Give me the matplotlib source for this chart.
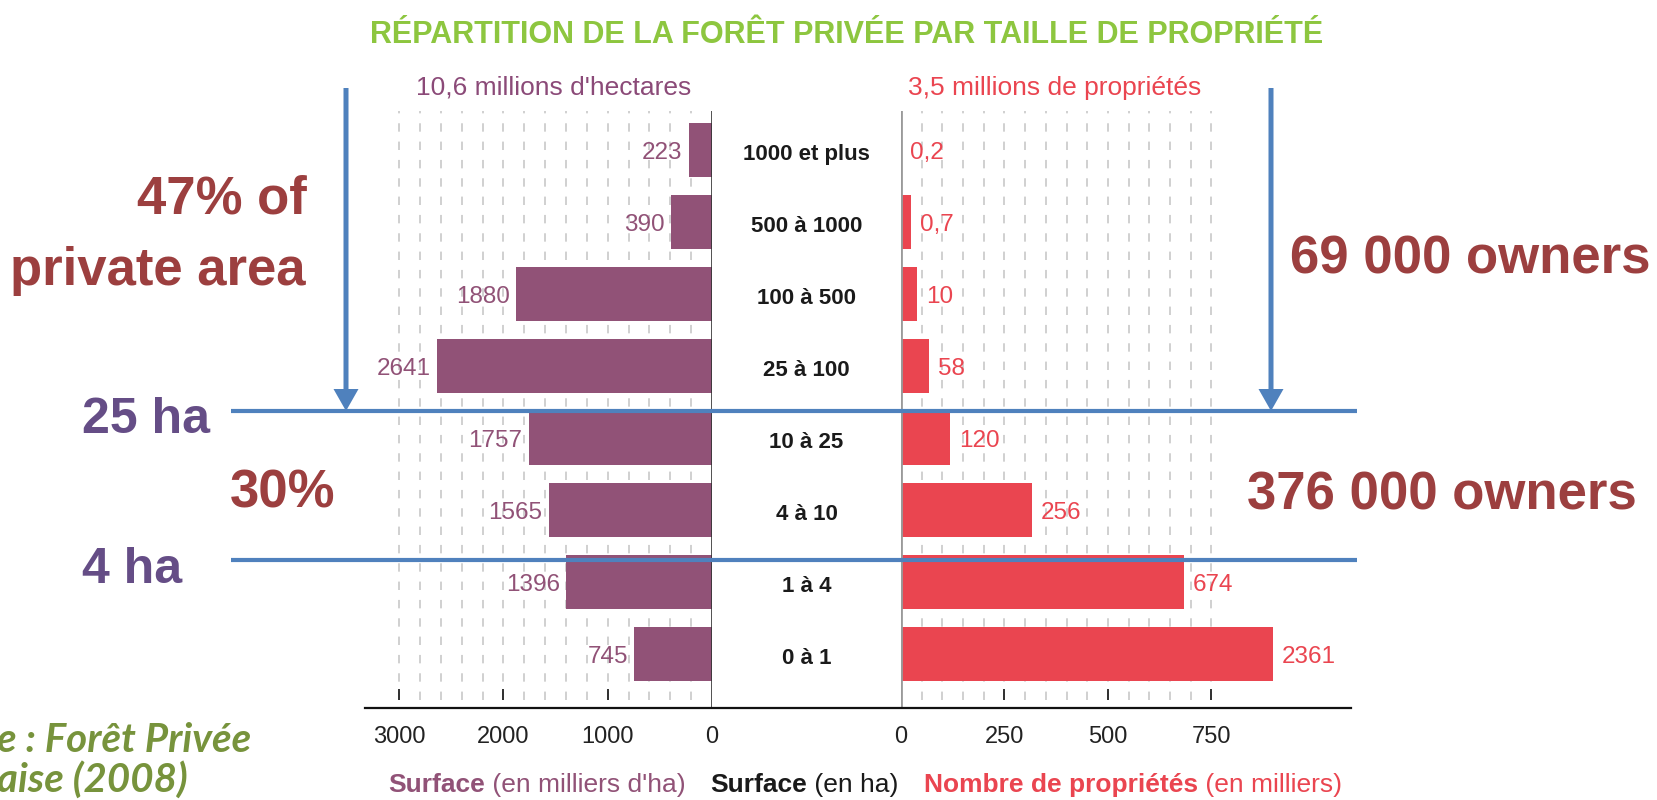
import numpy as np
import matplotlib

matplotlib.use("Agg")
import matplotlib.pyplot as plt
from matplotlib.offsetbox import TextArea, HPacker, AnnotationBbox

# data
categories = ["1000 et plus", "500 à 1000", "100 à 500", "25 à 100",
              "10 à 25", "4 à 10", "1 à 4", "0 à 1"]
surface = [223, 390, 1880, 2641, 1757, 1565, 1396, 745]          # milliers d'ha
proprietes_txt = ["0,2", "0,7", "10", "58", "120", "256", "674", "2361"]  # milliers
# bar lengths as drawn in the source (its right-hand scale is not proportional)
proprietes_barre = [0.2, 24, 39, 68, 118, 316, 684, 899]

left_ticks = [0, 1000, 2000, 3000]
right_ticks = [0, 250, 500, 750]

NARROW = ["Liberation Sans Narrow", "Liberation Sans", "DejaVu Sans"]
SANS = ["Liberation Sans", "DejaVu Sans"]
PURPLE = "#915277"
RED = "#EA4550"
DARKRED = "#9C3F3F"
VIOLET = "#654D86"
BLUE = "#4F81BD"
GREEN = "#8DC63F"

W, H = 1657, 800
fig = plt.figure(figsize=(W / 100, H / 100), dpi=100)
fig.patch.set_facecolor("white")

top_px, bot_px = 111, 708
ybot = (H - bot_px) / H
yh = (bot_px - top_px) / H


def fx(px):
    return px / W


ax_l = fig.add_axes([fx(365), ybot, fx(712 - 365), yh])
ax_m = fig.add_axes([fx(712), ybot, fx(901 - 712), yh])
ax_r = fig.add_axes([fx(901), ybot, fx(1351 - 901), yh])

rows = np.arange(len(categories))
ylim = (7.75, -0.54)

for ax in (ax_l, ax_m, ax_r):
    ax.set_ylim(*ylim)
    ax.set_yticks([])
    for s in ax.spines.values():
        s.set_visible(False)
    ax.patch.set_alpha(0)

ax_m.set_xticks([])

# left: surface
ax_l.set_xlim(3327, 0)
ax_l.vlines(np.arange(200, 3001, 200), 0.013, 1, transform=ax_l.get_xaxis_transform(),
            colors="#C4C4C4", linewidth=1.1, linestyles=(0, (5.5, 6.5)), zorder=1)
ax_l.vlines([1000, 2000, 3000], 0.013, 0.032, transform=ax_l.get_xaxis_transform(),
            colors="#222222", linewidth=1.3, zorder=2)
ax_l.axvline(0, color="#333333", linewidth=1.2, zorder=3)
ax_l.barh(rows, surface, height=0.75, color=PURPLE, zorder=2)
for i, v in enumerate(surface):
    ax_l.annotate(str(v), xy=(v, i), xytext=(-4.5, -2.5), textcoords="offset points",
                  ha="right", va="center", color=PURPLE, fontsize=17.5, family=NARROW)
ax_l.set_xticks(left_ticks)
ax_l.set_xticklabels([str(t) for t in left_ticks], family=NARROW, fontsize=17, color="#222222")
ax_l.tick_params(axis="x", length=0, pad=13)

# right: nombre de propriétés
ax_r.set_xlim(0, 1087)
ax_r.vlines(np.arange(50, 751, 50), 0.013, 1, transform=ax_r.get_xaxis_transform(),
            colors="#C4C4C4", linewidth=1.1, linestyles=(0, (5.5, 6.5)), zorder=1)
ax_r.vlines([250, 500, 750], 0.013, 0.032, transform=ax_r.get_xaxis_transform(),
            colors="#222222", linewidth=1.3, zorder=2)
ax_r.axvline(0, color="#9A9A9A", linewidth=2, zorder=3)
ax_r.barh(rows, proprietes_barre, height=0.75, color=RED, zorder=2)
for i, (v, t) in enumerate(zip(proprietes_barre, proprietes_txt)):
    ax_r.annotate(t, xy=(v, i), xytext=(6.5, -2.5), textcoords="offset points",
                  ha="left", va="center", color=RED, fontsize=17.5, family=NARROW)
ax_r.set_xticks(right_ticks)
ax_r.set_xticklabels([str(t) for t in right_ticks], family=NARROW, fontsize=17, color="#222222")
ax_r.tick_params(axis="x", length=0, pad=13)

# middle: size classes
ax_m.set_xlim(0, 1)
for i, c in enumerate(categories):
    ax_m.annotate(c, xy=(0.5, i), xytext=(0, -3), textcoords="offset points",
                  ha="center", va="center", fontsize=16, fontweight="bold",
                  family=NARROW, color="#1A1A1A")

# axis labels with bold / regular parts
def label_group(parts, x, y):
    boxes = [TextArea(t, textprops=dict(color=c, fontsize=19, fontweight=w, family=NARROW))
             for t, c, w in parts]
    pack = HPacker(children=boxes, align="baseline", pad=0, sep=0)
    ab = AnnotationBbox(pack, (x, H - y), xycoords="figure pixels", box_alignment=(0, 0.5),
                        frameon=False, pad=0)
    fig.add_artist(ab)


label_group([("Surface", PURPLE, "bold"), (" (en milliers d'ha)", PURPLE, "normal")], 388, 785)
label_group([("Surface", "#1A1A1A", "bold"), (" (en ha)", "#1A1A1A", "normal")], 710, 785)
label_group([("Nombre de propriétés", RED, "bold"), (" (en milliers)", RED, "normal")], 924, 785)

# overlay in pixel coordinates
ov = fig.add_axes([0, 0, 1, 1])
ov.set_xlim(0, W)
ov.set_ylim(H, 0)
ov.axis("off")
ov.patch.set_alpha(0)

ov.plot([365, 1351], [708, 708], color="#111111", linewidth=1.6)

ov.text(847, 35, "RÉPARTITION DE LA FORÊT PRIVÉE PAR TAILLE DE PROPRIÉTÉ", ha="center",
        va="center", color=GREEN, fontsize=22, fontweight="bold", family=NARROW)
ov.text(554, 88, "10,6 millions d'hectares", ha="center", va="center", color="#8B4A78",
        fontsize=19, family=SANS)
ov.text(1055, 88, "3,5 millions de propriétés", ha="center", va="center", color=RED,
        fontsize=19, family=SANS)

# blue markers
for yy in (411, 560):
    ov.plot([231, 1357], [yy, yy], color=BLUE, linewidth=3, solid_capstyle="butt")
for xx in (346, 1271):
    ov.arrow(xx, 88, 0, 411 - 88, width=5, head_width=25, head_length=22,
             length_includes_head=True, color=BLUE, linewidth=0)

big = dict(family=NARROW, fontweight="bold", fontsize=38, va="baseline")
ov.text(307, 213, "47% of", ha="right", color=DARKRED, **big)
ov.text(305, 285, "private area", ha="right", color=DARKRED, **big)
ov.text(230, 508, "30%", ha="left", color=DARKRED, **big)
ov.text(1650, 274, "69 000 owners", ha="right", color=DARKRED, **big)
ov.text(1637, 509, "376 000 owners", ha="right", color=DARKRED, **big)
ha_style = dict(family=NARROW, fontweight="bold", fontsize=36, va="baseline", color=VIOLET)
ov.text(82, 433, "25 ha", ha="left", **ha_style)
ov.text(82, 583, "4 ha", ha="left", **ha_style)

src = dict(family=["Lato", "Open Sans", "DejaVu Sans"], fontweight="bold", style="italic",
           fontsize=29, color="#77933C", va="baseline", ha="left")
ov.text(-3, 752, "e : Forêt Privée", **src)
ov.text(-3, 792, "aise (2008)", **src)

fig.savefig("out.png", dpi=100, facecolor="white")
